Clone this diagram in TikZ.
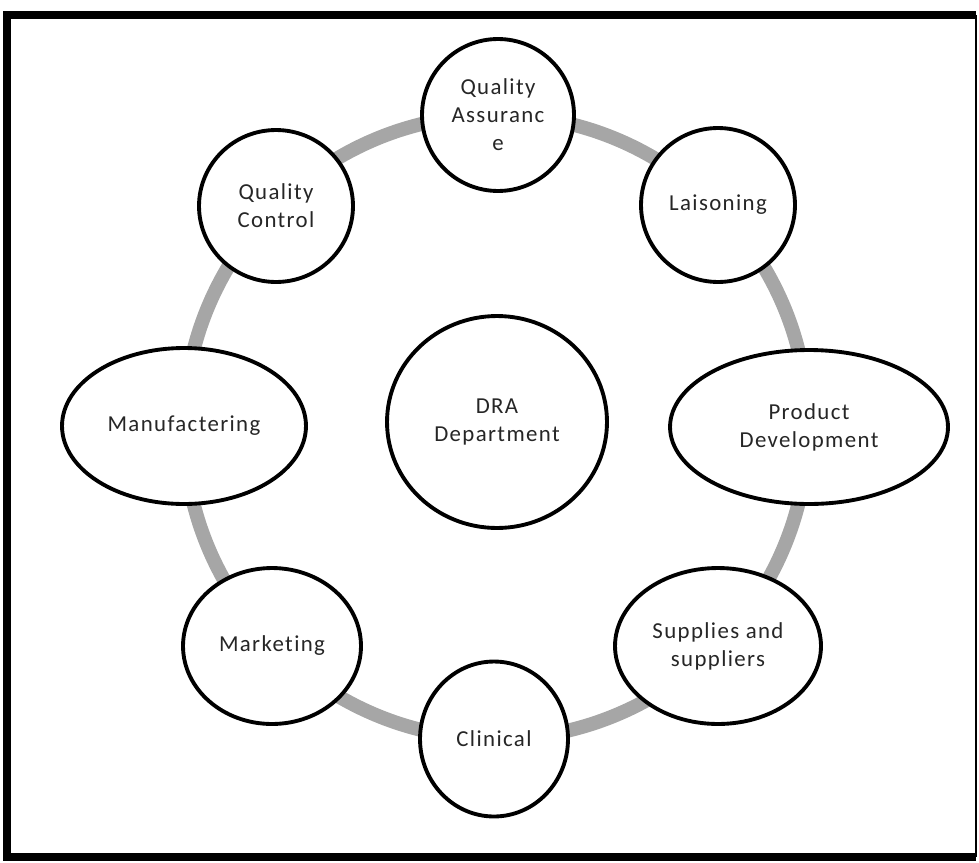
\documentclass[tikz,border=0pt]{standalone}
\usepackage{fontspec}
\setmainfont[LetterSpace=6,Ligatures={NoCommon}]{Carlito}
\usetikzlibrary{shapes.geometric}
\definecolor{ringgray}{HTML}{A6A6A6}
\definecolor{txt}{HTML}{262626}
\tikzset{
  bubble/.style={ellipse, draw=black, line width=2.2pt, fill=white, inner sep=0pt,
    align=center, text=txt, font=\fontsize{13}{15.9}\selectfont},
  ring/.style={draw=ringgray, line width=0.28cm},
  frame/.style={draw=black, line width=0.16cm}
}
\begin{document}
\begin{tikzpicture}[x=0.02cm, y=-0.02cm]
\useasboundingbox (0,0) rectangle (979,862);
% frame
\coordinate (tl) at (7,15);
\coordinate (tr) at (976,15);
\coordinate (bl) at (7,857);
\coordinate (br) at (976,857);
\draw[frame] (tr) -- (tl) -- (bl) -- (br);
\draw[draw=black, line width=0.04cm] (tr) -- (br);
% ring
\coordinate (rc) at (496,427);
\draw[ring] (rc) circle [radius=6.24cm];
% nodes
\node[bubble, minimum width=3.04cm, minimum height=3.04cm] (qa) at (498,115) {Quality\\Assuranc\\e};
\node[bubble, minimum width=3.08cm, minimum height=3.04cm] (qc) at (276,206) {Quality\\Control};
\node[bubble, minimum width=3.08cm, minimum height=3.08cm] (lai) at (718,205) {Laisoning};
\node[bubble, minimum width=4.88cm, minimum height=3.12cm] (man) at (184,426) {Manufactering};
\node[bubble, minimum width=4.40cm, minimum height=4.24cm] (dra) at (497,422) {DRA\\Department};
\node[bubble, minimum width=5.56cm, minimum height=3.08cm] (pd) at (809,427) {Product\\Development};
\node[bubble, minimum width=3.56cm, minimum height=3.12cm] (mkt) at (272,646) {Marketing};
\node[bubble, minimum width=4.12cm, minimum height=3.12cm] (sup) at (718,646) {Supplies and\\suppliers};
\node[bubble, minimum width=2.96cm, minimum height=3.10cm] (cli) at (494,739) {Clinical};
\end{tikzpicture}
\end{document}
